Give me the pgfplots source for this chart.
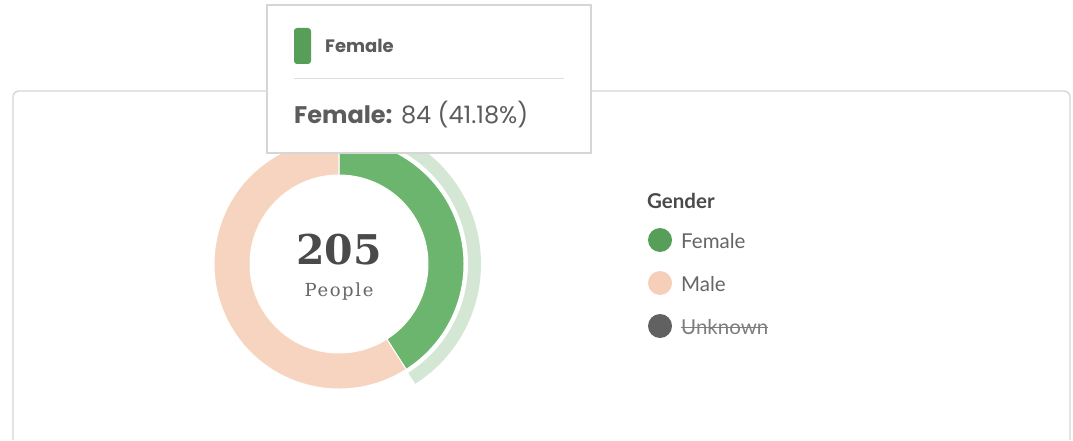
\documentclass[border=0pt]{standalone}
\usepackage{pgfplots}
\pgfplotsset{compat=1.18}
\usepackage{pgfplotstable}
\usetikzlibrary{calc}
\usepackage{fontspec}
\setmainfont{Lato}
\newfontfamily\tipfont{Poppins}
\newfontfamily\numfont{DejaVu Serif}
\newsavebox\strikebox
\newcommand\strike[1]{\sbox\strikebox{#1}\rlap{\raisebox{0.32em}{\rule{\wd\strikebox}{0.065em}}}\usebox\strikebox}
\definecolor{dgreen}{HTML}{6CB56F}
\definecolor{dpeach}{HTML}{F6D4C0}
\definecolor{hgreen}{HTML}{D4E7D4}
\definecolor{lgreen}{HTML}{579E59}
\definecolor{lpeach}{HTML}{F5CFBA}
\definecolor{lgray}{HTML}{616161}
\definecolor{txt}{HTML}{666666}
\definecolor{dtxt}{HTML}{4A4A4A}
\definecolor{frame}{HTML}{D6D6D6}

\pgfplotstableread{
gender count
Female 84
Male 121
Unknown 0
}\gendertable

\begin{document}
\begin{tikzpicture}
\pgfplotstablegetelem{0}{count}\of\gendertable \let\nF\pgfplotsretval
\pgfplotstablegetelem{1}{count}\of\gendertable \let\nM\pgfplotsretval
\pgfplotstablegetelem{2}{count}\of\gendertable \let\nU\pgfplotsretval
\pgfmathsetmacro\total{int(\nF+\nM+\nU)}
\pgfmathsetmacro\aF{90-\nF/\total*360}
\pgfmathsetmacro\aM{\aF-\nM/\total*360}
\begin{axis}[scale only axis, width=1073pt, height=436pt,
  xmin=0, xmax=1073, ymin=0, ymax=436, y dir=reverse, hide axis, clip=false]
% background / bounding box
\fill[white] (axis cs:0,0) rectangle (axis cs:1073,436);
% frame
\draw[frame, line width=1.4pt, rounded corners=6pt] (axis cs:13,440) -- (axis cs:13,91) -- (axis cs:1070,91) -- (axis cs:1070,440);
% donut
\coordinate (c) at (axis cs:339,264);
\fill[hgreen] ($(c)+(90:142pt)$) arc[start angle=90, end angle=\aF, radius=142pt]
  -- ($(c)+(\aF:129pt)$) arc[start angle=\aF, end angle=90, radius=129pt] -- cycle;
\filldraw[fill=dgreen, draw=white, line width=1pt] ($(c)+(90:125pt)$) arc[start angle=90, end angle=\aF, radius=125pt]
  -- ($(c)+(\aF:89pt)$) arc[start angle=\aF, end angle=90, radius=89pt] -- cycle;
\filldraw[fill=dpeach, draw=white, line width=1pt] ($(c)+(\aF:125pt)$) arc[start angle=\aF, end angle=\aM, radius=125pt]
  -- ($(c)+(\aM:89pt)$) arc[start angle=\aM, end angle=\aF, radius=89pt] -- cycle;
\node[text=dtxt, font=\numfont\bfseries\fontsize{41}{46}\selectfont] at (axis cs:339,250) {\total};
\node[text=txt, font=\numfont\fontsize{18}{21}\selectfont] at (axis cs:339,292) {\addfontfeature{LetterSpace=9}People};
% legend
\node[anchor=west, text=dtxt, font=\bfseries\fontsize{20.5}{24}\selectfont, inner sep=0pt] at (axis cs:647,201) {Gender};
\fill[lgreen] (axis cs:660,240) circle (12pt);
\fill[lpeach] (axis cs:660,283) circle (12pt);
\fill[lgray] (axis cs:660,326) circle (12pt);
\node[anchor=west, text=txt, font=\fontsize{20.5}{24}\selectfont, inner sep=0pt] at (axis cs:681,241) {Female};
\node[anchor=west, text=txt, font=\fontsize{20.5}{24}\selectfont, inner sep=0pt] at (axis cs:681,284) {Male};
\node[anchor=west, text=txt!85!white, font=\fontsize{20.5}{24}\selectfont, inner sep=0pt] at (axis cs:681,327) {\strike{Unknown}};
% tooltip
\filldraw[fill=white, draw=frame, line width=1.2pt] (axis cs:267,5) rectangle (axis cs:591,153);
\fill[lgreen, rounded corners=3pt] (axis cs:294,28) rectangle (axis cs:311,64);
\node[anchor=west, text=dtxt!90!white, font=\tipfont\bfseries\fontsize{18}{21}\selectfont, inner sep=0pt] at (axis cs:325,46) {Female};
\draw[frame!80!white, line width=1pt] (axis cs:294,79) -- (axis cs:564,79);
\node[anchor=west, text=dtxt!90!white, font=\tipfont\fontsize{24}{28}\selectfont, inner sep=0pt] at (axis cs:294,115) {\textbf{Female:} 84 (41.18\%)};
\end{axis}
\end{tikzpicture}
\end{document}
